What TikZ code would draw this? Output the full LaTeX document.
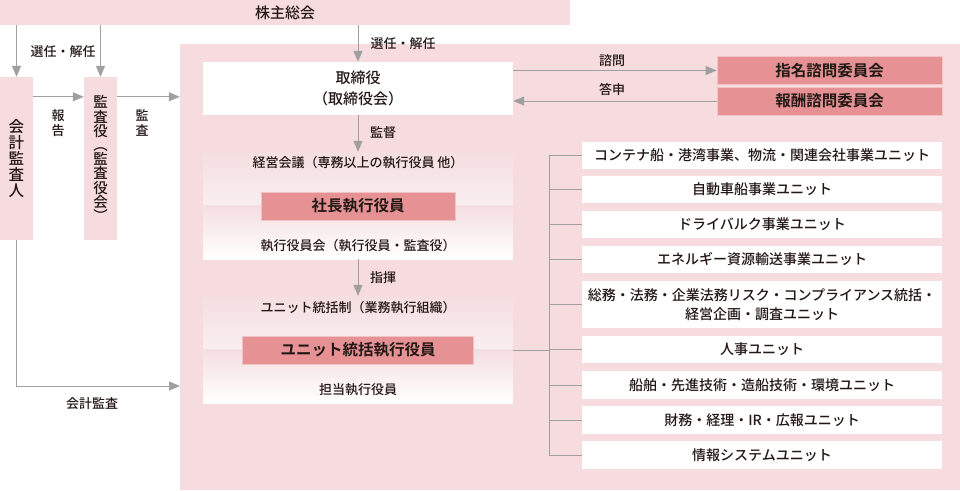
\documentclass[tikz,border=0pt]{standalone}
\usepackage{fontspec}
\setmainfont{Noto Sans CJK JP}[UprightFont={* Medium},BoldFont={* Bold}]
\usetikzlibrary{arrows.meta,calc}
\definecolor{palepink}{HTML}{F7DCDF}
\definecolor{deeppink}{HTML}{E69294}
\definecolor{fadepink}{HTML}{F4DEE0}
\definecolor{linegray}{HTML}{A0A0A0}
\definecolor{ink}{HTML}{231815}

\begin{document}
\begin{tikzpicture}[x=1pt,y=-1pt,
		txt/.style={text=ink,inner sep=0pt,align=center,font=\fontsize{13}{14.5}\selectfont},
		pinkbar/.style={fill=palepink,inner sep=0pt,text=ink,align=center},
		redbox/.style={fill=deeppink,draw=white!45!deeppink,line width=0.8pt,inner sep=0pt,text=ink,font=\fontsize{15.5}{18}\selectfont\bfseries},
		unitbox/.style={fill=white,inner sep=0pt,minimum width=360pt,text=ink,align=center,font=\fontsize{14}{18.5}\selectfont},
		panel/.style={minimum width=310pt,minimum height=107pt,inner sep=0pt,
			path picture={
				\shade[top color=fadepink,bottom color=white] (path picture bounding box.north west) rectangle (path picture bounding box.east);
				\shade[top color=fadepink,bottom color=white] (path picture bounding box.west) rectangle (path picture bounding box.south east);}},
		arr/.style={draw=linegray,line width=1pt,-{Triangle[length=11pt,width=9pt]}},
		link/.style={draw=linegray,line width=1pt}]
		\useasboundingbox (0,0) rectangle (960,490);
		
		\node[pinkbar,minimum width=570pt,minimum height=25pt,font=\fontsize{15}{18}\selectfont] (soukai) at (285,12.5) {株主総会};
		\node[fill=palepink,minimum width=780pt,minimum height=446pt,inner sep=0pt] (area) at (570,267) {};
		
		\node[pinkbar,minimum width=33pt,minimum height=163pt,font=\fontsize{15.5}{15.8}\selectfont] (kaikei) at (16.5,158.5) {会\\計\\監\\査\\人};
		\node[pinkbar,minimum width=33pt,minimum height=163pt,font=\fontsize{14.5}{14.2}\selectfont] (kansayaku) at (100.5,158.5) {監\\査\\役\\︵\\監\\査\\役\\会\\︶};
		
		\node[fill=white,minimum width=310pt,minimum height=53pt,inner sep=0pt,text=ink,align=center,font=\fontsize{15}{21}\selectfont] (board) at (358,88.5) {取締役\\（取締役会）};
		\node[redbox,minimum width=225pt,minimum height=28pt] (shimei) at (829.5,70.5) {指名諮問委員会};
		\node[redbox,minimum width=225pt,minimum height=28pt] (houshu) at (829.5,101) {報酬諮問委員会};
		
		\node[panel] (keiei) at (358,205.5) {};
		\node[txt] (keieikaigi) at (358,163) {経営会議（専務以上の執行役員 他）};
		\node[redbox,minimum width=194pt,minimum height=28pt] (shacho) at (358,206) {社長執行役員};
		\node[txt] (shikkokai) at (358,246) {執行役員会（執行役員・監査役）};
		
		\node[panel] (toukatsu) at (358,349.5) {};
		\node[txt] (unitsei) at (358,308) {ユニット統括制（業務執行組織）};
		\node[redbox,minimum width=231pt,minimum height=28pt] (unitexec) at (358,350) {ユニット統括執行役員};
		\node[txt] (tantou) at (358,390) {担当執行役員};
		
		\foreach \y/\h/\t [count=\i] in {155/27/{コンテナ船・港湾事業、物流・関連会社事業ユニット},
			189.5/27/{自動車船事業ユニット},
			224.5/27/{ドライバルク事業ユニット},
			259.5/27/{エネルギー資源輸送事業ユニット},
			304.5/47/{総務・法務・企業法務リスク・コンプライアンス統括・\\経営企画・調査ユニット},
			349.5/27/{人事ユニット},
			385/28/{船舶・先進技術・造船技術・環境ユニット},
			420/28/{財務・経理・IR・広報ユニット},
			455/28/{情報システムユニット}}
			\node[unitbox,minimum height=\h pt] (u\i) at (762,\y) {\t};
		
		\coordinate (trunk) at (549,350);
		\coordinate (kaikeiend) at (180,386);
		
		\draw[arr] (kaikei.north |- soukai.south) -- (kaikei.north);
		\draw[arr] (kansayaku.north |- soukai.south) -- (kansayaku.north);
		\node[txt] (senninL) at (63,52) {選任・解任};
		\draw[arr] ([yshift=-20pt]kaikei.north east) -- ([yshift=-20pt]kansayaku.north west);
		\node[txt] (houkoku) at (58,123) {報\\告};
		\draw[arr] ([yshift=-20pt]kansayaku.north east) -- ([yshift=-20pt]kansayaku.north east -| area.west);
		\node[txt] (kansa) at (142,123) {監\\査};
		\draw[arr] (kaikei.south) |- (kaikeiend);
		\node[txt] (kaikeikansa) at (92,404) {会計監査};
		
		\draw[arr] (board.north |- soukai.south) -- (board.north);
		\node[txt] (senninR) at (403,44) {選任・解任};
		\draw[arr] (board.east |- shimei.west) -- (shimei.west);
		\node[txt] (shimon) at (612,61) {諮問};
		\draw[arr] (houshu.west) -- (board.east |- houshu.west);
		\node[txt] (toushin) at (612,89) {答申};
		\draw[arr] (board.south) -- (keiei.north);
		\node[txt] (kantoku) at (383,133) {監督};
		\draw[arr] (keiei.south) -- (toukatsu.north);
		\node[txt] (shiki) at (383,278) {指揮};
		
		\draw[link] (toukatsu.east |- unitexec.east) -- (trunk);
		\foreach \i in {1,...,9}
			\draw[link] (u\i.west) -| (trunk);
	\end{tikzpicture}
\end{document}
